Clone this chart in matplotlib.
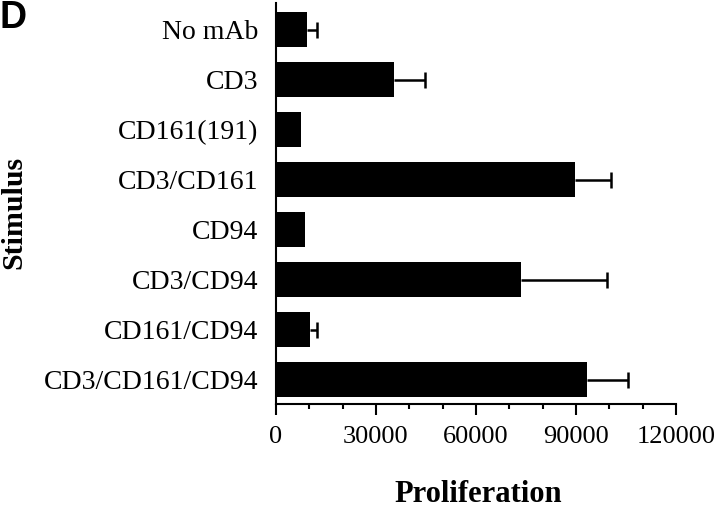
import matplotlib
matplotlib.use("Agg")
import matplotlib.pyplot as plt
from matplotlib.ticker import MultipleLocator

categories = ["No mAb", "CD3", "CD161(191)", "CD3/CD161", "CD94",
              "CD3/CD94", "CD161/CD94", "CD3/CD161/CD94"]
values = [9400, 35500, 7400, 89800, 8600, 73500, 10200, 93400]
errors = [3000, 9100, 0, 10600, 0, 25800, 2200, 12200]
xticks = [0, 30000, 60000, 90000, 120000]

fig = plt.figure(figsize=(7.2, 5.08), dpi=100)
ax = fig.add_axes([276/720, 1 - 404/508, 400/720, 401/508])

ypos = list(range(len(categories)))
ax.barh(ypos, values, height=0.7, color="black", zorder=2)
for y, v, e in zip(ypos, values, errors):
    if e > 0:
        _, caps, _ = ax.errorbar([v], [y], xerr=[[0], [e]], fmt="none", ecolor="black",
                                 elinewidth=1.8, capsize=5.5, capthick=1.8, zorder=3)
        if len(caps) > 1:
            caps[0].set_visible(False)

ax.set_xlim(0, 120000)
ax.set_ylim(7.49, -0.53)
ax.set_xticks(xticks)
ax.set_xticklabels([str(t) for t in xticks], fontfamily="Liberation Serif", fontsize=19)
ax.xaxis.set_minor_locator(MultipleLocator(10000))
ax.tick_params(axis="x", which="major", direction="out", length=8, width=1.5, pad=8)
ax.tick_params(axis="x", which="minor", direction="out", length=3.5, width=1.5)
ax.set_yticks(ypos)
ax.set_yticklabels(categories, fontfamily="Liberation Serif", fontsize=20)
ax.tick_params(axis="y", length=0, pad=13)

for s in ["top", "right"]:
    ax.spines[s].set_visible(False)
for s in ["left", "bottom"]:
    ax.spines[s].set_linewidth(1.5)

fig.text(478/720, 1 - 502/508, "Proliferation", ha="center", va="baseline",
         fontfamily="Liberation Serif", fontweight="bold", fontsize=22)
fig.text(14/720, 1 - 212/508, "Stimulus", ha="center", va="center", rotation=90,
         fontfamily="Liberation Serif", fontweight="bold", fontsize=21.5)
fig.text(0/720, 1 - 18/508, "D", ha="left", va="center",
         fontfamily="Liberation Sans", fontweight="bold", fontsize=27)

fig.savefig("out.png", dpi=100)
